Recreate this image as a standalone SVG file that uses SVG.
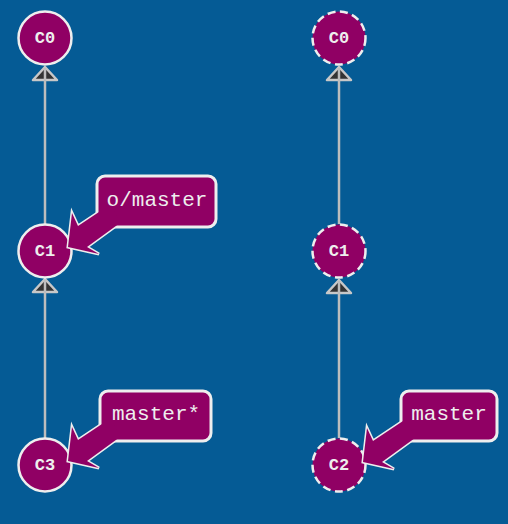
<svg xmlns="http://www.w3.org/2000/svg" width="508" height="524" viewBox="0 0 508 524">
<style>
.bg{fill:#055b95}
.commit{fill:#900064;stroke:#eeeeee;stroke-width:2.5}
.ghost{stroke-dasharray:8 4.5}
.clabel{font-family:"Liberation Mono",monospace;font-weight:bold;font-size:17px;fill:#eeeeee;text-anchor:middle}
.edge{stroke:#bdbdbd;stroke-width:2.5;fill:none}
.head{fill:#333333;stroke:#c8c8c8;stroke-width:2.5;stroke-linejoin:round}
.box{fill:#900064;stroke:#eeeeee;stroke-width:3}
.ptr{fill:#900064;stroke:#eeeeee;stroke-width:3;stroke-linejoin:miter}
.ptrfill{fill:#900064;stroke:none}
.blabel{font-family:"Liberation Mono",monospace;font-size:21px;fill:#eeeeee;text-anchor:middle}
</style>
<defs>
<polygon id="ptrshape" points="0,0 4,-34 10,-21 43,-43 52,-24 19,0 31,7"/>
</defs>
<rect class="bg" x="0" y="0" width="508" height="524"/>
<g id="connectors">
<polygon class="head" points="45,67 33,80 57,80"/>
<line class="edge" x1="45" y1="224" x2="45" y2="68"/>
<polygon class="head" points="45,279 33,292 57,292"/>
<line class="edge" x1="45" y1="438" x2="45" y2="280"/>
<polygon class="head" points="339,67 327,80 351,80"/>
<line class="edge" x1="339" y1="224" x2="339" y2="68"/>
<polygon class="head" points="339,280 327,293 351,293"/>
<line class="edge" x1="339" y1="438" x2="339" y2="281"/>
</g>
<g id="C0">
<circle class="commit" cx="45" cy="38" r="26.5"/>
<text class="clabel" x="45" y="43">C0</text>
</g>
<g id="C1">
<circle class="commit" cx="45" cy="251" r="26.5"/>
<text class="clabel" x="45" y="256">C1</text>
</g>
<g id="C3">
<circle class="commit" cx="45" cy="465" r="26.5"/>
<text class="clabel" x="45" y="470">C3</text>
</g>
<g id="C0-remote">
<circle class="commit ghost" cx="339" cy="38" r="26.5"/>
<text class="clabel" x="339" y="43">C0</text>
</g>
<g id="C1-remote">
<circle class="commit ghost" cx="339" cy="251" r="26.5"/>
<text class="clabel" x="339" y="256">C1</text>
</g>
<g id="C2-remote">
<circle class="commit ghost" cx="339" cy="465" r="26.5"/>
<text class="clabel" x="339" y="470">C2</text>
</g>
<g id="branch-o-master">
<use href="#ptrshape" class="ptr" transform="translate(68,247)"/>
<rect class="box" x="97" y="176" width="119" height="51" rx="8"/>
<use href="#ptrshape" class="ptrfill" transform="translate(68,247)"/>
<text class="blabel" x="157" y="206">o/master</text>
</g>
<g id="branch-master-local">
<use href="#ptrshape" class="ptr" transform="translate(68,461)"/>
<rect class="box" x="100" y="391" width="111" height="50" rx="8"/>
<use href="#ptrshape" class="ptrfill" transform="translate(68,461)"/>
<text class="blabel" x="156" y="420">master*</text>
</g>
<g id="branch-master-remote">
<use href="#ptrshape" class="ptr" transform="translate(363,462)"/>
<rect class="box" x="401" y="391" width="96" height="50" rx="8"/>
<use href="#ptrshape" class="ptrfill" transform="translate(363,462)"/>
<text class="blabel" x="449" y="420">master</text>
</g>
</svg>
